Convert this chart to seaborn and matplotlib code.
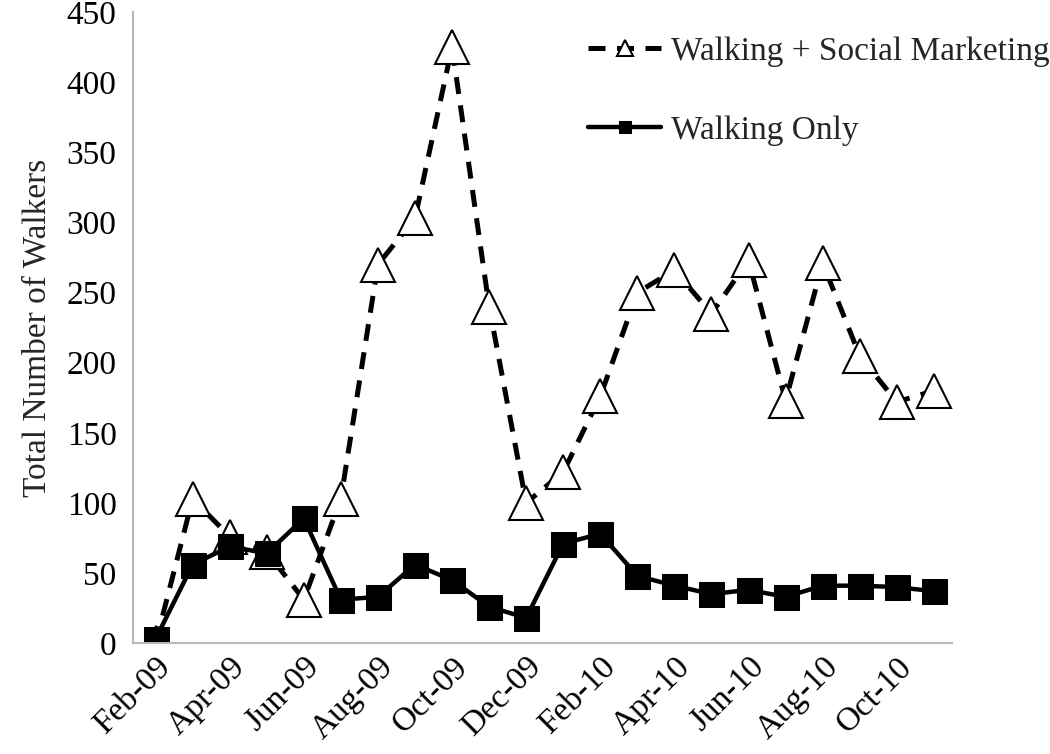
import matplotlib
matplotlib.use("Agg")
import matplotlib.pyplot as plt
import numpy as np
import pandas as pd
import seaborn as sns

MONTHS = ["Feb-09", "Mar-09", "Apr-09", "May-09", "Jun-09", "Jul-09", "Aug-09",
          "Sep-09", "Oct-09", "Nov-09", "Dec-09", "Jan-10", "Feb-10", "Mar-10",
          "Apr-10", "May-10", "Jun-10", "Jul-10", "Aug-10", "Sep-10", "Oct-10",
          "Nov-10"]
SOCIAL_MARKETING = [0, 103, 76, 65, 31, 103, 270, 303, 425, 240, 100, 122,
                    176, 250, 266, 235, 273, 173, 271, 205, 172, 180]
WALKING_ONLY = [3, 56, 69, 64, 89, 31, 33, 56, 45, 26, 18, 71,
                78, 48, 41, 35, 38, 33, 41, 41, 40, 37]
TICK_LABELS = MONTHS[::2]

sns.set_theme(style="white")
plt.rcParams["font.family"] = ["Liberation Serif", "DejaVu Serif"]

df = pd.DataFrame({
    "idx": np.arange(len(MONTHS)),
    "Walking + Social Marketing": SOCIAL_MARKETING,
    "Walking Only": WALKING_ONLY,
})

fig = plt.figure(figsize=(10.5, 7.54), dpi=100)
ax = fig.add_axes([0.127, 0.147, 0.78, 0.837])

# dashed series with open triangles
sns.lineplot(data=df, x="idx", y="Walking + Social Marketing", ax=ax,
             color="black", linewidth=3.6, marker="^", markersize=24,
             markerfacecolor="white", markeredgecolor="black",
             markeredgewidth=1.5, label="Walking + Social Marketing")
ax.lines[-1].set_dashes([3.4, 2.3])

# solid series with filled squares, drawn on top
sns.lineplot(data=df, x="idx", y="Walking Only", ax=ax,
             color="black", linewidth=3.2, marker="s", markersize=18,
             markerfacecolor="black", markeredgecolor="black",
             label="Walking Only")

ax.set_xlim(-0.6, 21.5)
ax.set_ylim(0, 450)
ax.set_yticks(range(0, 451, 50))
ax.set_xticks(range(0, len(MONTHS), 2))
ax.set_xticklabels(TICK_LABELS, rotation=45, ha="right", rotation_mode="anchor")
ax.tick_params(axis="both", labelsize=24, length=0, colors="black")
ax.tick_params(axis="y", pad=12)
ax.tick_params(axis="x", pad=6)
ax.set_xlabel("")
ax.set_ylabel("Total Number of Walkers", fontsize=24, labelpad=10)

for side in ["top", "right"]:
    ax.spines[side].set_visible(False)
for side in ["left", "bottom"]:
    ax.spines[side].set_color("#b8b8b8")
    ax.spines[side].set_linewidth(1.5)

ax.legend(loc="upper right", bbox_to_anchor=(1.0, 0.952),
          bbox_transform=fig.transFigure, frameon=False, fontsize=24,
          markerscale=0.5, handlelength=2.2, handletextpad=0.3,
          labelspacing=1.45, borderpad=0, borderaxespad=0)

fig.savefig("out.png", dpi=100)
